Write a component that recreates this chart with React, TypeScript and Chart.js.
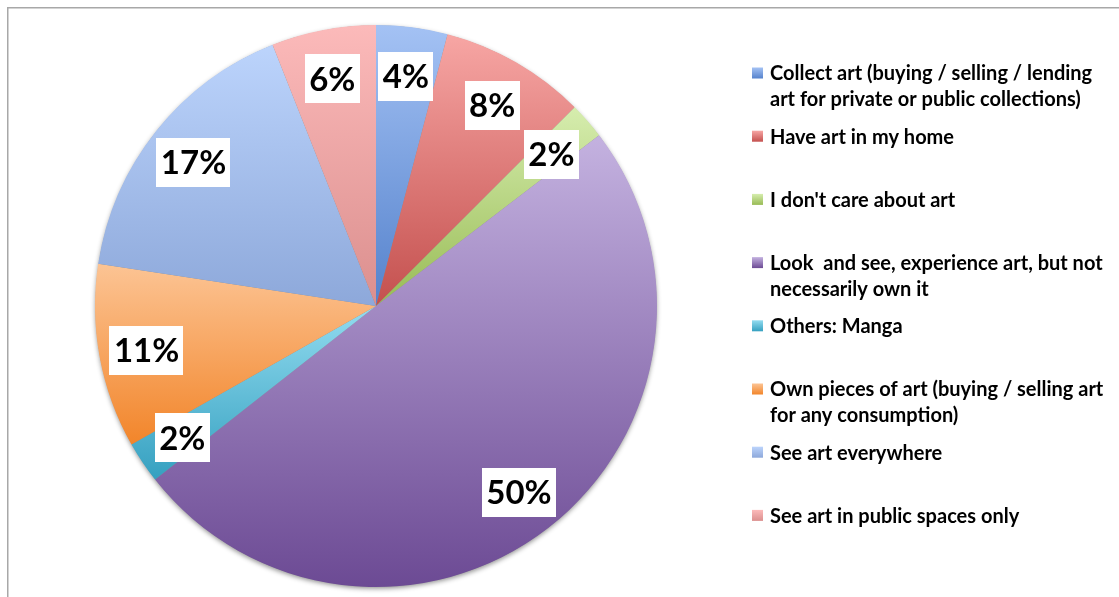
import React, { useEffect, useRef } from 'react';
import { Chart, registerables } from 'chart.js';

Chart.register(...registerables);

const categories = [
  'Collect art (buying / selling / lending art for private or public collections)',
  'Have art in my home',
  "I don't care about art",
  'Look  and see, experience art, but not necessarily own it',
  'Others: Manga',
  'Own pieces of art (buying / selling art for any consumption)',
  'See art everywhere',
  'See art in public spaces only',
];

const legendLines = [
  ['Collect art (buying / selling / lending', 'art for private or public collections)'],
  ['Have art in my home'],
  ["I don't care about art"],
  ['Look  and see, experience art, but not', 'necessarily own it'],
  ['Others: Manga'],
  ['Own pieces of art (buying / selling art', 'for any consumption)'],
  ['See art everywhere'],
  ['See art in public spaces only'],
];

const shares = [4.1, 8.4, 2.1, 49.8, 2.4, 10.6, 16.6, 6.0];
const percentLabels = ['4%', '8%', '2%', '50%', '2%', '11%', '17%', '6%'];

const topColors = ['#A4C2F4', '#F7A6A4', '#D6EDAE', '#C4B2E0', '#93DCF0', '#FCC494', '#BCD4FC', '#FCBABA'];
const bottomColors = ['#5582CC', '#C4504E', '#98BB55', '#6C4A94', '#35A0C0', '#F2852A', '#8DA8DA', '#DB8F8E'];

const FONT = 'Lato, "Open Sans", sans-serif';

function sliceGradient(chart: any, i: number) {
  const area = chart.chartArea;
  if (!area) return bottomColors[i];
  const cx = (area.left + area.right) / 2;
  const cy = (area.top + area.bottom) / 2;
  const r = Math.min(area.right - area.left, area.bottom - area.top) / 2;
  const total = shares.reduce((a, b) => a + b, 0);
  let cum = 0;
  for (let k = 0; k < i; k++) cum += shares[k];
  const a0 = -Math.PI / 2 + (cum / total) * Math.PI * 2;
  const a1 = -Math.PI / 2 + ((cum + shares[i]) / total) * Math.PI * 2;
  let yMin = cy;
  let yMax = cy;
  const n = 120;
  for (let s = 0; s <= n; s++) {
    const a = a0 + ((a1 - a0) * s) / n;
    const y = cy + r * Math.sin(a);
    if (y < yMin) yMin = y;
    if (y > yMax) yMax = y;
  }
  const g = chart.ctx.createLinearGradient(0, yMin, 0, yMax);
  g.addColorStop(0, topColors[i]);
  g.addColorStop(1, bottomColors[i]);
  return g;
}

const framePlugin = {
  id: 'frame',
  beforeDraw(chart: any) {
    const ctx = chart.ctx;
    ctx.save();
    ctx.strokeStyle = '#A8A8A8';
    ctx.lineWidth = 1.5;
    ctx.beginPath();
    ctx.moveTo(7.75, chart.height);
    ctx.lineTo(7.75, 7.75);
    ctx.lineTo(chart.width, 7.75);
    ctx.stroke();
    ctx.restore();
  },
};

const shadowPlugin = {
  id: 'pieShadow',
  beforeDatasetsDraw(chart: any) {
    const meta = chart.getDatasetMeta(0);
    const arc = meta.data[0];
    if (!arc) return;
    const ctx = chart.ctx;
    ctx.save();
    ctx.shadowColor = 'rgba(0,0,0,0.45)';
    ctx.shadowBlur = 5;
    ctx.shadowOffsetX = 0;
    ctx.shadowOffsetY = 2;
    ctx.fillStyle = '#888';
    ctx.beginPath();
    ctx.arc(arc.x, arc.y, arc.outerRadius - 0.5, 0, Math.PI * 2);
    ctx.fill();
    ctx.restore();
  },
};

const labelPlugin = {
  id: 'sliceLabels',
  afterDatasetsDraw(chart: any) {
    const meta = chart.getDatasetMeta(0);
    const ctx = chart.ctx;
    ctx.save();
    ctx.font = `bold 33px ${FONT}`;
    ctx.textAlign = 'center';
    ctx.textBaseline = 'middle';
    meta.data.forEach((arc: any, i: number) => {
      const mid = (arc.startAngle + arc.endAngle) / 2;
      const d = arc.outerRadius * 0.83;
      const x = arc.x + Math.cos(mid) * d;
      const y = arc.y + Math.sin(mid) * d + 2;
      const text = percentLabels[i];
      const w = ctx.measureText(text).width + 9;
      const h = 49;
      ctx.fillStyle = '#FFFFFF';
      ctx.fillRect(Math.round(x - w / 2), Math.round(y - h / 2), Math.round(w), h);
      ctx.fillStyle = '#000000';
      ctx.fillText(text, x, y + 1);
    });
    ctx.restore();
  },
};

const legendPlugin = {
  id: 'customLegend',
  afterDraw(chart: any) {
    const ctx = chart.ctx;
    ctx.save();
    ctx.font = `bold 20px ${FONT}`;
    ctx.textBaseline = 'middle';
    ctx.textAlign = 'left';
    const startY = 73;
    const step = 63.2;
    const lineH = 26;
    categories.forEach((_c, i) => {
      const y = startY + i * step;
      const g = ctx.createLinearGradient(0, y - 5.5, 0, y + 5.5);
      g.addColorStop(0, topColors[i]);
      g.addColorStop(1, bottomColors[i]);
      ctx.fillStyle = g;
      ctx.fillRect(752, y - 5.5, 11, 11);
      ctx.fillStyle = '#000000';
      legendLines[i].forEach((line, j) => {
        ctx.fillText(line, 770, y + j * lineH + 1);
      });
    });
    ctx.restore();
  },
};

export default function App() {
  const ref = useRef<HTMLCanvasElement | null>(null);

  useEffect(() => {
    let chart: Chart | null = null;
    let cancelled = false;
    const make = () => {
      if (cancelled || !ref.current) return;
      chart = new Chart(ref.current, {
        type: 'pie',
        data: {
          labels: categories,
          datasets: [
            {
              data: shares,
              backgroundColor: (ctx: any) => sliceGradient(ctx.chart, ctx.dataIndex),
              borderWidth: 0,
              hoverOffset: 0,
              offset: 0,
            },
          ],
        },
        options: {
          responsive: false,
          animation: false,
          events: [],
          layout: { padding: { left: 95, top: 25, right: 462, bottom: 10 } },
          plugins: {
            legend: { display: false },
            tooltip: { enabled: false },
            title: { display: false },
          },
        },
        plugins: [framePlugin, shadowPlugin, labelPlugin, legendPlugin],
      });
    };
    const fonts: any = (document as any).fonts;
    if (fonts && fonts.load) {
      Promise.all([fonts.load(`bold 20px Lato`), fonts.load(`bold 33px Lato`)])
        .catch(() => null)
        .then(make);
    } else {
      make();
    }
    return () => {
      cancelled = true;
      if (chart) chart.destroy();
    };
  }, []);

  return (
    <div style={{ position: 'fixed', left: 0, top: 0, width: 1119, height: 597, background: '#fff' }}>
      <canvas ref={ref} width={1119} height={597} style={{ display: 'block', width: 1119, height: 597 }} />
    </div>
  );
}
